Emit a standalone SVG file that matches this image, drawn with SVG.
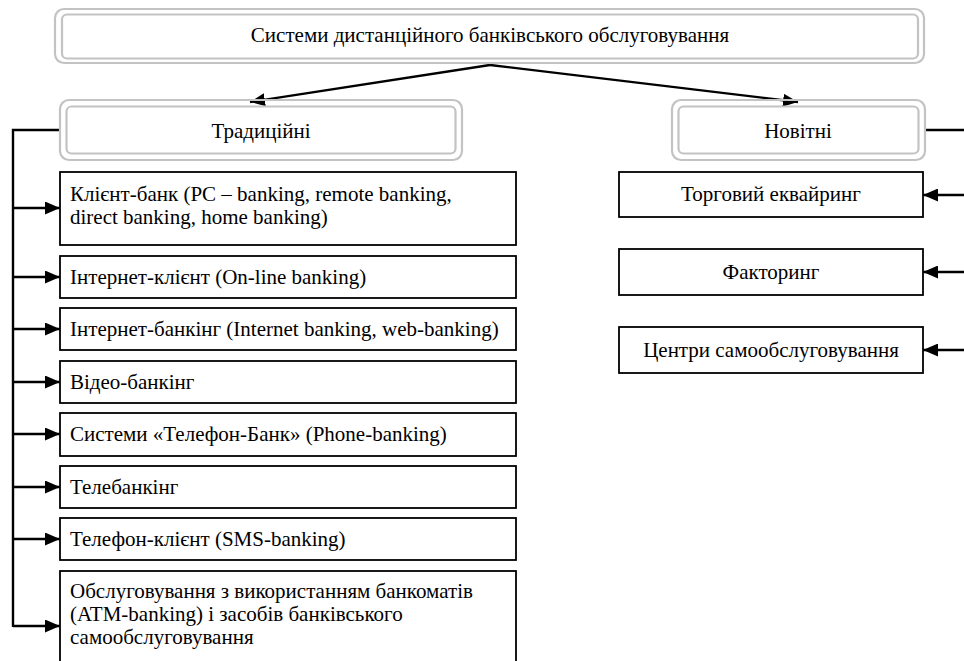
<svg xmlns="http://www.w3.org/2000/svg" width="964" height="661" viewBox="0 0 964 661">
<style>
text{font-family:"Liberation Serif","Times New Roman",serif;font-size:21px;fill:#000}
.c{text-anchor:middle}
.g{fill:none;stroke:#c3c3c3;stroke-width:2.2}
.b{fill:#fff;stroke:#000;stroke-width:1.8}
.ln{fill:none;stroke:#000;stroke-width:2.4}
</style>
<defs>
<marker id="ah" viewBox="0 0 15 13" refX="15" refY="6.5" markerWidth="15" markerHeight="13" markerUnits="userSpaceOnUse" orient="auto">
<path d="M0,0 L15,6.5 L0,13 Z" fill="#000"/>
</marker>
</defs>
<rect width="964" height="661" fill="#fff"/>
<g id="connectors">
<path class="ln" d="M490,65 L250,102" marker-end="url(#ah)"/>
<path class="ln" d="M490,65 L798,102" marker-end="url(#ah)"/>
<path class="ln" d="M60,130 H13 V627"/>
<path class="ln" d="M13,208 H60" marker-end="url(#ah)"/>
<path class="ln" d="M13,277 H60" marker-end="url(#ah)"/>
<path class="ln" d="M13,329 H60" marker-end="url(#ah)"/>
<path class="ln" d="M13,382 H60" marker-end="url(#ah)"/>
<path class="ln" d="M13,434 H60" marker-end="url(#ah)"/>
<path class="ln" d="M13,487 H60" marker-end="url(#ah)"/>
<path class="ln" d="M13,539 H60" marker-end="url(#ah)"/>
<path class="ln" d="M13,626 H60" marker-end="url(#ah)"/>
<path class="ln" d="M925,130 H966 V350"/>
<path class="ln" d="M966,195 H923" marker-end="url(#ah)"/>
<path class="ln" d="M966,272 H923" marker-end="url(#ah)"/>
<path class="ln" d="M966,350 H923" marker-end="url(#ah)"/>
</g>
<g id="root">
<rect class="g" x="55" y="9" width="869" height="54" rx="9"/>
<rect class="g" x="62" y="14.5" width="856" height="44" rx="5"/>
<text class="c" x="490" y="42">Системи дистанційного банківського обслуговування</text>
</g>
<g id="traditional">
<rect class="g" x="60" y="100" width="402" height="60" rx="9"/>
<rect class="g" x="66.5" y="106.5" width="389" height="47" rx="5"/>
<text class="c" x="261" y="138">Традиційні</text>
</g>
<g id="new">
<rect class="g" x="672" y="100" width="253" height="60" rx="9"/>
<rect class="g" x="678.5" y="106.5" width="240" height="47" rx="5"/>
<text class="c" x="798" y="138">Новітні</text>
</g>
<g id="t1">
<rect class="b" x="60" y="172" width="456" height="73"/>
<text x="70" y="201">Клієнт-банк (PC – banking, remote banking,</text>
<text x="70" y="224">direct banking, home banking)</text>
</g>
<g id="t2">
<rect class="b" x="60" y="256" width="456" height="42"/>
<text x="70" y="284">Інтернет-клієнт (On-line banking)</text>
</g>
<g id="t3">
<rect class="b" x="60" y="308" width="456" height="42"/>
<text x="70" y="336">Інтернет-банкінг (Internet banking, web-banking)</text>
</g>
<g id="t4">
<rect class="b" x="60" y="361" width="456" height="42"/>
<text x="70" y="389">Відео-банкінг</text>
</g>
<g id="t5">
<rect class="b" x="60" y="413" width="456" height="43"/>
<text x="70" y="441">Системи «Телефон-Банк» (Phone-banking)</text>
</g>
<g id="t6">
<rect class="b" x="60" y="466" width="456" height="42"/>
<text x="70" y="494">Телебанкінг</text>
</g>
<g id="t7">
<rect class="b" x="60" y="518" width="456" height="42"/>
<text x="70" y="546">Телефон-клієнт (SMS-banking)</text>
</g>
<g id="t8">
<rect class="b" x="60" y="571" width="456" height="100"/>
<text x="70" y="598">Обслуговування з використанням банкоматів</text>
<text x="70" y="621">(ATM-banking) і засобів банківського</text>
<text x="70" y="644">самообслуговування</text>
</g>
<g id="n1">
<rect class="b" x="619" y="172" width="304" height="45"/>
<text class="c" x="771" y="201">Торговий еквайринг</text>
</g>
<g id="n2">
<rect class="b" x="619" y="249" width="304" height="46"/>
<text class="c" x="771" y="279">Факторинг</text>
</g>
<g id="n3">
<rect class="b" x="619" y="327" width="304" height="46"/>
<text class="c" x="771" y="357">Центри самообслуговування</text>
</g>
</svg>
